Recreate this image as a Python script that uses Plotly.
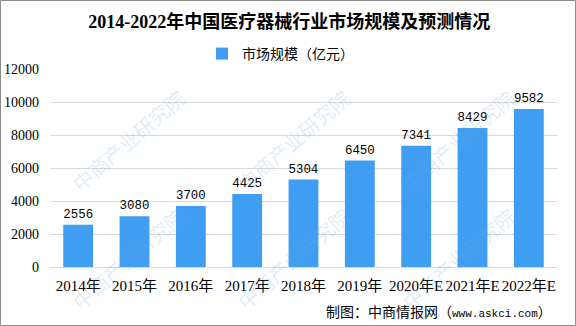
import plotly.graph_objects as go

# 2014-2022 China medical device market size (100 million yuan), 2020-2022 forecast
years = ["2014年", "2015年", "2016年", "2017年", "2018年", "2019年", "2020年E", "2021年E", "2022年E"]
market_size = [2556, 3080, 3700, 4425, 5304, 6450, 7341, 8429, 9582]
y_ticks = [0, 2000, 4000, 6000, 8000, 10000, 12000]

W, H = 576, 326
L, R, T, B = 50, 19, 69, 59
PW, PH = W - L - R, H - T - B

def px_x(x):
    return (x - L) / PW

def px_y(y):
    return (H - B - y) / PH

CJK = "Noto Sans CJK SC"
SERIF = "Liberation Serif, " + CJK
MONO = "Liberation Mono, " + CJK

fig = go.Figure()
fig.add_trace(go.Bar(
    x=years,
    y=market_size,
    name="市场规模（亿元）",
    marker=dict(color="#409EF2", line=dict(width=0)),
    text=[str(v) for v in market_size],
    textposition="outside",
    textfont=dict(family=MONO, size=13, color="#000000"),
    cliponaxis=False,
))

# diagonal "中商产业研究院" watermark tiles
annotations = []
for cx in [128, 293, 458]:
    for cy in [140, 258]:
        annotations.append(dict(
            x=px_x(cx), y=px_y(cy), xref="paper", yref="paper",
            text="中商产业研究院", showarrow=False, textangle=-41,
            font=dict(family=CJK, size=20, color="rgba(110,165,220,0.22)"),
            xanchor="center", yanchor="middle",
        ))

# source note
annotations.append(dict(
    x=px_x(554), y=px_y(311), xref="paper", yref="paper",
    text="制图：中商情报网（<span style=\"font-family:'Liberation Mono';font-size:11px\">www.askci.com</span>）",
    showarrow=False, xanchor="right", yanchor="middle",
    font=dict(family=CJK, size=14, color="#000000"),
))

fig.update_layout(
    width=W, height=H,
    margin=dict(l=L, r=R, t=T, b=B),
    paper_bgcolor="white", plot_bgcolor="white",
    title=dict(
        text="<b>2014-2022年中国医疗器械行业市场规模及预测情况</b>",
        x=0.502, xanchor="center", xref="container",
        y=1 - 22 / H, yanchor="middle", yref="container",
        font=dict(family=SERIF, size=18, color="#000000"),
    ),
    showlegend=True,
    legend=dict(
        orientation="h", x=px_x(202), y=px_y(54), xanchor="left", yanchor="middle",
        font=dict(family=CJK, size=14, color="#000000"),
        bgcolor="rgba(0,0,0,0)", itemwidth=30,
    ),
    bargap=0.47,
    xaxis=dict(
        showgrid=False, showline=False, ticks="",
        tickfont=dict(family=SERIF, size=15, color="#000000"),
        tickangle=0, ticklabelstandoff=8, automargin=False,
    ),
    yaxis=dict(
        range=[0, 12000], tickvals=y_ticks, tickformat="d",
        showgrid=True, gridcolor="#D9D9D9", gridwidth=1,
        zeroline=True, zerolinecolor="#D9D9D9", zerolinewidth=1,
        showline=False, ticks="",
        tickfont=dict(family=SERIF, size=14, color="#000000"),
        ticklabelstandoff=10, automargin=False,
    ),
    annotations=annotations,
    shapes=[dict(
        type="rect", xref="paper", yref="paper",
        x0=px_x(0.5), x1=px_x(575.5), y0=px_y(325.5), y1=px_y(0.5),
        line=dict(color="#8C8C8C", width=1), fillcolor="rgba(0,0,0,0)", layer="above",
    )],
)

fig.write_html("out.html")
